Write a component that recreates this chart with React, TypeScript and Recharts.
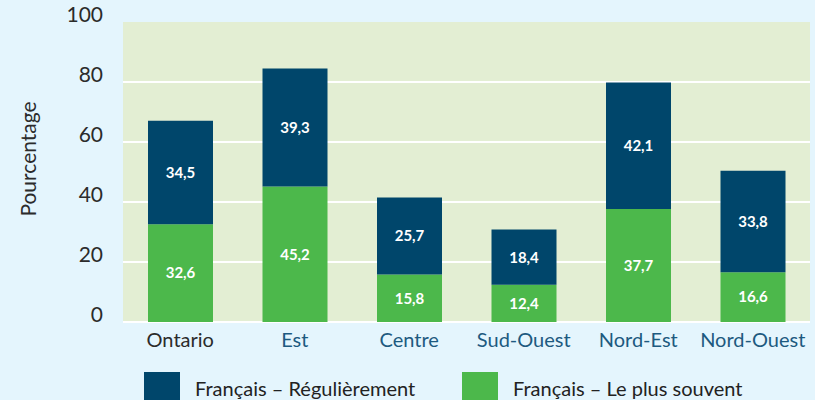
import React from 'react';
import { BarChart, Bar, XAxis, YAxis, CartesianGrid, LabelList } from 'recharts';

const regions = ['Ontario', 'Est', 'Centre', 'Sud-Ouest', 'Nord-Est', 'Nord-Ouest'];
const plusSouvent = [32.6, 45.2, 15.8, 12.4, 37.7, 16.6];
const regulierement = [34.5, 39.3, 25.7, 18.4, 42.1, 33.8];
const yTicks = [0, 20, 40, 60, 80, 100];

const NAVY = '#00466b';
const GREEN = '#4cb84b';
const FONT = 'Lato, sans-serif';

const data = regions.map((name, i) => ({
    name,
    souvent: plusSouvent[i],
    regulier: regulierement[i],
}));

const legendItems = [
    { label: 'Français – Régulièrement', color: NAVY, left: 144 },
    { label: 'Français – Le plus souvent', color: GREEN, left: 462 },
];

const fmt = (v: any) => String(v).replace('.', ',');

const XTick = (props: any) => {
    const { x, y, payload } = props;
    const color = payload.value === 'Ontario' ? '#2b2b2b' : '#1d5a80';
    return (
        <text x={x} y={y} dy="0.71em" textAnchor="middle" fill={color} fontSize={20} fontFamily={FONT}>
            {payload.value}
        </text>
    );
};

export default function App() {
    return (
        <div style={{ position: 'absolute', left: 0, top: 0, width: 815, height: 400, background: '#e4f5fd', overflow: 'hidden' }}>
            <style>{`body{margin:0}`}</style>
            <BarChart width={815} height={400} data={data} margin={{ top: 22, right: 5, left: 0, bottom: 48 }}>
                <CartesianGrid
                    vertical={false}
                    horizontalValues={[0, 20, 40, 60, 80]}
                    stroke="#ffffff"
                    strokeWidth={2}
                    fill="#e3eed3"
                />
                <XAxis
                    dataKey="name"
                    axisLine={false}
                    tickLine={false}
                    tickMargin={5}
                    height={30}
                    tick={<XTick />}
                    interval={0}
                />
                <YAxis
                    width={123}
                    domain={[0, 100]}
                    ticks={yTicks}
                    axisLine={false}
                    tickLine={false}
                    tickMargin={14}
                    tick={{ fill: '#2b2b2b', fontSize: 21, fontFamily: FONT, dy: -7 }}
                    label={{
                        content: () => (
                            <text
                                x={31}
                                y={159}
                                transform="rotate(-90 31 159)"
                                textAnchor="middle"
                                dominantBaseline="middle"
                                fill="#2b2b2b"
                                fontSize={21}
                                fontFamily={FONT}
                            >
                                Pourcentage
                            </text>
                        ),
                    }}
                />
                <Bar dataKey="souvent" stackId="a" fill={GREEN} barSize={65} isAnimationActive={false}>
                    <LabelList dataKey="souvent" position="center" formatter={fmt} fill="#ffffff" fontSize={15} fontWeight={700} fontFamily={FONT} />
                </Bar>
                <Bar dataKey="regulier" stackId="a" fill={NAVY} barSize={65} isAnimationActive={false}>
                    <LabelList dataKey="regulier" position="center" formatter={fmt} fill="#ffffff" fontSize={15} fontWeight={700} fontFamily={FONT} />
                </Bar>
            </BarChart>
            {legendItems.map((it) => (
                <React.Fragment key={it.label}>
                    <div style={{ position: 'absolute', left: it.left, top: 372, width: 36, height: 28, background: it.color }} />
                    <div
                        style={{
                            position: 'absolute',
                            left: it.left + 51,
                            top: 378,
                            fontFamily: FONT,
                            fontSize: 20,
                            lineHeight: '20px',
                            color: '#222',
                            whiteSpace: 'nowrap',
                        }}
                    >
                        {it.label}
                    </div>
                </React.Fragment>
            ))}
        </div>
    );
}
